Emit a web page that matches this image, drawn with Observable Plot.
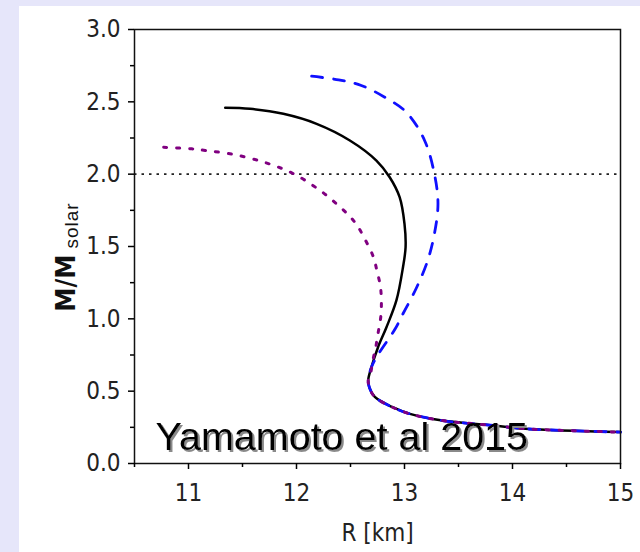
<!DOCTYPE html>
<html><head><meta charset="utf-8">
<script src="https://cdn.jsdelivr.net/npm/d3@7"></script>
<script src="https://cdn.jsdelivr.net/npm/@observablehq/plot@0.6"></script>
<style>
html,body{margin:0;padding:0;}
body{width:640px;height:552px;background:#e6e6fa;position:relative;overflow:hidden;}
#panel{position:absolute;left:19px;top:6px;width:621px;height:546px;background:#fff;}
</style></head><body><div id="panel"></div>
<script>
// Solid black curve (R in km, M in solar masses)
const blackR = [11.34, 11.57, 11.878, 12.186, 12.494, 12.74, 12.863, 12.955, 13.0, 13.01, 12.986, 12.925, 12.833, 12.755, 12.694, 12.664, 12.675, 12.725, 12.89, 13.05, 13.35, 13.82, 14.12, 15.0];
const blackM = [2.459, 2.452, 2.417, 2.348, 2.233, 2.094, 1.979, 1.841, 1.657, 1.495, 1.357, 1.127, 0.942, 0.804, 0.666, 0.575, 0.525, 0.46, 0.389, 0.343, 0.297, 0.263, 0.24, 0.217];
// Blue dashed curve
const blueR = [12.14, 12.39, 12.60, 12.817, 13.017, 13.186, 13.28, 13.31, 13.28, 13.217, 13.11, 12.986, 12.91, 12.75, 12.694, 12.664, 12.675, 12.725, 12.89, 13.05, 13.35, 13.82, 14.12, 15.0];
const blueM = [2.677, 2.652, 2.613, 2.532, 2.428, 2.233, 1.99, 1.795, 1.6, 1.408, 1.213, 1.035, 0.926, 0.747, 0.666, 0.575, 0.525, 0.46, 0.389, 0.343, 0.297, 0.263, 0.24, 0.217];
// Purple dotted curve
const purpleR = [10.77, 11.03, 11.155, 11.42, 11.65, 11.79, 11.91, 12.03, 12.155, 12.26, 12.37, 12.47, 12.556, 12.632, 12.71, 12.746, 12.777, 12.786, 12.78, 12.755, 12.734, 12.71, 12.685, 12.664, 12.675, 12.725, 12.89, 13.05, 13.35, 13.82, 14.12, 15.0];
const purpleM = [2.186, 2.175, 2.164, 2.136, 2.094, 2.06, 2.025, 1.98, 1.92, 1.864, 1.795, 1.726, 1.652, 1.553, 1.431, 1.329, 1.223, 1.115, 1.011, 0.90, 0.804, 0.723, 0.62, 0.575, 0.525, 0.46, 0.389, 0.343, 0.297, 0.263, 0.24, 0.217];
// Reference mass line
const refM = [2.0];
// Ticks
const xTicks = [11, 12, 13, 14, 15];
const xMinor = [10.5, 11.5, 12.5, 13.5, 14.5];
const yTicks = [0, 0.5, 1.0, 1.5, 2.0, 2.5, 3.0];
const yMinor = [0.25, 0.75, 1.25, 1.75, 2.25, 2.75];
const xLabel = "R [km]";
const yLabelMain = "M/M";
const yLabelSub = "solar";
const note = "Yamamoto et al 2015";

const toRows = (R, M) => R.map((r, i) => ({R: r, M: M[i]}));
const narrow = "'Liberation Sans Narrow', 'DejaVu Sans Condensed', sans-serif";
const arial = "'Liberation Sans', Arial, sans-serif";

const plot = Plot.plot({
  width: 621, height: 546,
  marginLeft: 115, marginRight: 20, marginTop: 23, marginBottom: 89,
  x: {domain: [10.5, 15]},
  y: {domain: [0, 3]},
  style: {background: "white", color: "black", fontFamily: narrow, overflow: "visible"},
  marks: [
    Plot.ruleY(refM, {stroke: "#222", strokeWidth: 1.6, strokeDasharray: "2.5,5"}),
    Plot.line(toRows(blackR, blackM), {x: "R", y: "M", stroke: "black", strokeWidth: 2.5, curve: "catmull-rom"}),
    Plot.line(toRows(blueR, blueM), {x: "R", y: "M", stroke: "#1010ff", strokeWidth: 2.8, strokeDasharray: "11,11", curve: "catmull-rom"}),
    Plot.line(toRows(purpleR, purpleM), {x: "R", y: "M", stroke: "#800080", strokeWidth: 3, strokeDasharray: "3,10", curve: "catmull-rom"}),
    Plot.frame({stroke: "#111", strokeWidth: 1.5}),
    Plot.axisY({ticks: yTicks, tickFormat: ".1f", tickSize: 6, tickPadding: 8, fontSize: 24, label: null, strokeWidth: 1.5, fill: "#222"}),
    Plot.axisY({ticks: yMinor, tickFormat: () => "", tickSize: 4, label: null, strokeWidth: 1.5}),
    Plot.axisX({ticks: xTicks, tickFormat: "d", tickSize: 6, tickPadding: 14, fontSize: 24, label: null, strokeWidth: 1.5, fill: "#222"}),
    Plot.axisX({ticks: xMinor, tickFormat: () => "", tickSize: 4, label: null, strokeWidth: 1.5}),
    Plot.text([xLabel], {text: d => d, frameAnchor: "bottom", dy: 77, lineAnchor: "bottom", fontSize: 24, fill: "#222", fontFamily: narrow}),
    Plot.text([note], {text: d => d, frameAnchor: "bottom-left", textAnchor: "start", dx: 21, dy: -14, lineAnchor: "bottom", fontSize: 39.5, fill: "black", fontFamily: arial})
  ]
});

const svg = d3.select(plot);
// Drop shadow for the annotation
const defs = svg.insert("defs", ":first-child");
defs.append("filter").attr("id", "noteShadow").attr("x", "-5%").attr("y", "-20%").attr("width", "115%").attr("height", "150%")
  .append("feDropShadow").attr("dx", 2).attr("dy", 2).attr("stdDeviation", 0.6).attr("flood-color", "#8a8a8a").attr("flood-opacity", 1);
svg.selectAll("text").filter(function () { return this.textContent === note; }).attr("filter", "url(#noteShadow)");

// Rotated y-axis label with subscript
const yr = plot.scale("y").range;
const cy = (yr[0] + yr[1]) / 2 + 11;
const lab = svg.append("text")
  .attr("transform", `translate(56,${cy}) rotate(-90)`)
  .attr("text-anchor", "middle")
  .attr("fill", "#111")
  .attr("font-family", narrow);
lab.append("tspan").attr("font-size", 27).attr("font-weight", "bold").text(yLabelMain);
lab.append("tspan").attr("font-size", 19).attr("dy", 3).attr("dx", 6).attr("letter-spacing", 1).attr("font-family", arial).text(yLabelSub);

document.getElementById("panel").appendChild(plot);
</script>
</body></html>
